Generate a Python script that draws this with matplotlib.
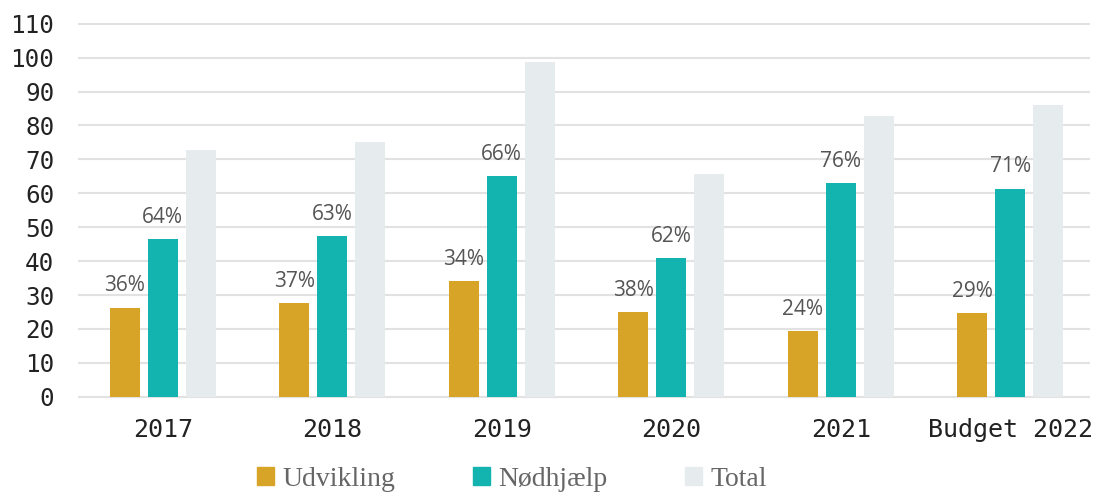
import numpy as np
import matplotlib.pyplot as plt
from matplotlib.patches import Patch

########## DATA ##########

categories = ["2017", "2018", "2019", "2020", "2021", "Budget 2022"]
udvikling = [26.3, 27.7, 34.0, 25.0, 19.5, 24.8]
nodhjaelp = [46.6, 47.5, 65.0, 41.0, 63.1, 61.4]
total = [72.9, 75.0, 98.8, 65.8, 82.9, 86.1]
udv_pct = ["36%", "37%", "34%", "38%", "24%", "29%"]
nod_pct = ["64%", "63%", "66%", "62%", "76%", "71%"]
yticks = list(range(0, 111, 10))

c_udv = "#D8A428"
c_nod = "#13B3B0"
c_tot = "#E6ECEE"

########## PLOT ##########

fig = plt.figure(figsize=(10.94, 4.93), dpi=100)
ax = fig.add_axes([0.0713, 0.191, 0.925, 0.765])

x = np.arange(len(categories))
w = 0.177
off = 0.224

ax.bar(x - off, udvikling, w, color=c_udv, zorder=3)
ax.bar(x, nodhjaelp, w, color=c_nod, zorder=3)
ax.bar(x + off, total, w, color=c_tot, zorder=3)

for xi, v, s in zip(x - off, udvikling, udv_pct):
    ax.annotate(s, (xi, v), xytext=(0, 8), textcoords="offset points",
                ha="center", va="bottom", fontsize=15, color="#555555",
                family="Open Sans")
for xi, v, s in zip(x, nodhjaelp, nod_pct):
    ax.annotate(s, (xi, v), xytext=(0, 8), textcoords="offset points",
                ha="center", va="bottom", fontsize=15, color="#555555",
                family="Open Sans")

ax.set_xlim(-0.5, 5.47)
ax.set_ylim(-0.6, 110.6)
ax.set_yticks(yticks)
ax.set_xticks(x)
ax.set_xticklabels(categories)
ax.yaxis.grid(True, color="#e2e2e2", linewidth=1.5, zorder=0)
ax.set_axisbelow(True)
for s in ax.spines.values():
    s.set_visible(False)
ax.tick_params(axis="both", length=0, colors="#222222")
ax.tick_params(axis="y", pad=17, labelsize=17.5)
ax.tick_params(axis="x", pad=14, labelsize=18)
for lbl in ax.get_xticklabels() + ax.get_yticklabels():
    lbl.set_family("DejaVu Sans Mono")

handles = [Patch(color=c_udv, label="Udvikling"),
           Patch(color=c_nod, label="Nødhjælp"),
           Patch(color=c_tot, label="Total")]
leg = fig.legend(handles=handles, loc="center", bbox_to_anchor=(0.468, 0.028),
                 ncol=3, frameon=False, handlelength=0.6, handleheight=0.6,
                 handletextpad=0.3, columnspacing=2.8,
                 prop={"family": "Liberation Serif", "size": 20})
for t in leg.get_texts():
    t.set_color("#666666")

fig.savefig("out.png", dpi=100)
plt.close(fig)
